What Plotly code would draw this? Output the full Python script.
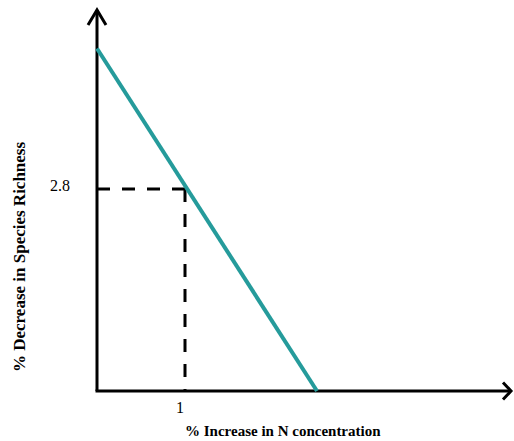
import plotly.graph_objects as go

# Data
line_x = [0, 2.5]
line_y = [4.75, 0]
ref_x = 1
ref_y = 2.8
x_tick_vals = [1]
x_tick_text = ["1"]
y_tick_vals = [2.8]
y_tick_text = ["2.8"]
x_title = "% Increase in N concentration"
y_title = "% Decrease in Species Richness"

W, H = 514, 441
ml, mr, mt, mb = 80, 0, 0, 40
ox, oy = 97, 391           # origin in figure pixels
px_x = 88.0                # pixels per x unit
px_y = 72.1                # pixels per y unit
x_range = [-(ox - ml) / px_x, (W - mr - ox) / px_x]
y_range = [-(H - mb - oy) / px_y, (oy - mt) / px_y]


def paper(px, py):
    return (px - ml) / (W - ml - mr), (H - mb - py) / (H - mt - mb)


teal = "#259b9b"
fig = go.Figure()

shapes = []
axis_style = dict(color="black", width=3)
x_end = (511 - ox) / px_x
y_end = (oy - 10) / px_y
shapes.append(dict(type="line", xref="x", yref="y", x0=-1.5 / px_x, y0=0, x1=x_end, y1=0, line=axis_style, layer="below"))
shapes.append(dict(type="line", xref="x", yref="y", x0=0, y0=0, x1=0, y1=y_end, line=axis_style, layer="below"))
ax, ay = 8 / px_x, 8.5 / px_y
shapes.append(dict(type="path", xref="x", yref="y",
                   path=f"M {x_end-ax},{ay} L {x_end},0 L {x_end-ax},{-ay}",
                   line=axis_style, layer="below"))
bx, by = 9 / px_x, 15 / px_y
shapes.append(dict(type="path", xref="x", yref="y",
                   path=f"M {-bx},{y_end-by} L 0,{y_end} L {bx},{y_end-by}",
                   line=axis_style, layer="below"))
dash_style = dict(color="black", width=3, dash="13px,12px")
shapes.append(dict(type="line", xref="x", yref="y", x0=0, y0=ref_y, x1=ref_x, y1=ref_y, line=dash_style, layer="below"))
shapes.append(dict(type="line", xref="x", yref="y", x0=ref_x, y0=ref_y, x1=ref_x, y1=0, line=dash_style, layer="below"))

fig.add_trace(go.Scatter(x=line_x, y=line_y, mode="lines",
                         line=dict(color=teal, width=4), hoverinfo="skip",
                         showlegend=False))

serif = "Liberation Serif"
common = dict(xref="paper", yref="paper", showarrow=False, xanchor="center", yanchor="middle")
for v, t in zip(x_tick_vals, x_tick_text):
    px, py = paper(ox + v * px_x - 5, oy + 17)
    fig.add_annotation(x=px, y=py, text=t, font=dict(family=serif, size=16, color="black"), **common)
for v, t in zip(y_tick_vals, y_tick_text):
    px, py = paper(ox - 37, oy - v * px_y - 4)
    fig.add_annotation(x=px, y=py, text=t, font=dict(family=serif, size=16, color="black"), **common)
px, py = paper(283, 431)
fig.add_annotation(x=px, y=py, text=f"<b>{x_title}</b>",
                   font=dict(family=serif, size=15, color="black"), **common)
px, py = paper(19, 257)
fig.add_annotation(x=px, y=py, text=f"<b>{y_title}</b>", textangle=-90,
                   font=dict(family=serif, size=17, color="black"), **common)

fig.update_layout(
    width=W, height=H,
    margin=dict(l=ml, r=mr, t=mt, b=mb),
    paper_bgcolor="white", plot_bgcolor="white",
    shapes=shapes,
    xaxis=dict(range=x_range, visible=False, fixedrange=True),
    yaxis=dict(range=y_range, visible=False, fixedrange=True),
)
fig.write_html("out.html", config={"displayModeBar": False, "staticPlot": True},
               post_script="document.body.style.margin='0';document.body.style.overflow='hidden';")
